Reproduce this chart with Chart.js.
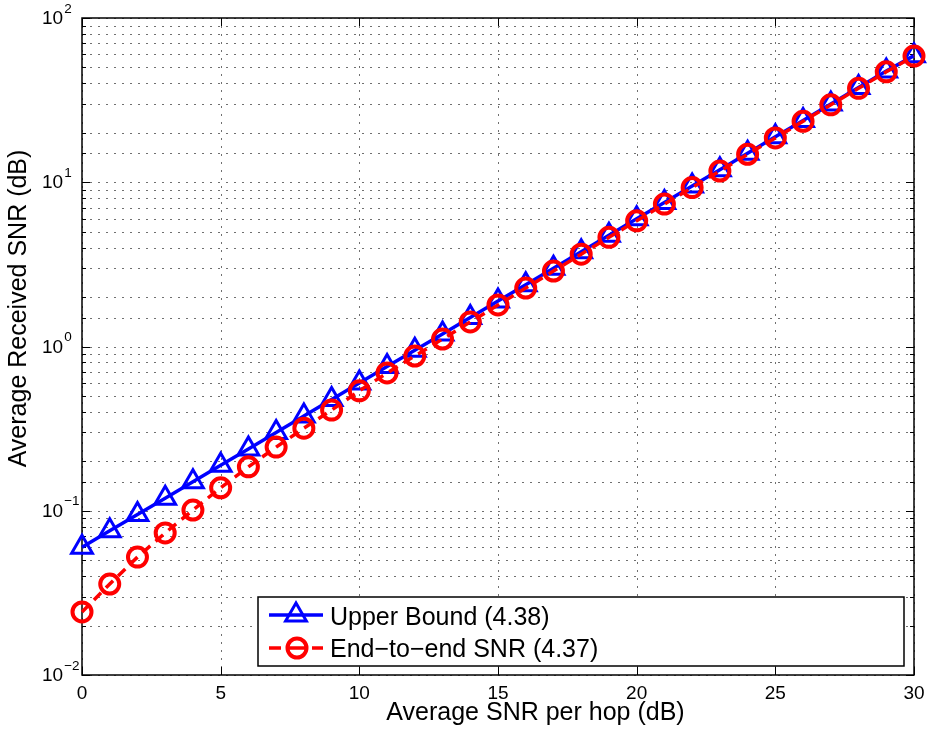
<!DOCTYPE html>
<html>
<head>
<meta charset="utf-8">
<title>Average Received SNR</title>
<script src="https://cdn.jsdelivr.net/npm/chart.js@4.4.1/dist/chart.umd.min.js"></script>
<style>
  html, body { margin: 0; padding: 0; background: #fff; }
  #wrap { position: relative; width: 929px; height: 729px; }
</style>
</head>
<body>
<div id="wrap"><canvas id="chart" width="929" height="729"></canvas></div>
<script>
// values
const snrPerHop = [0, 1, 2, 3, 4, 5, 6, 7, 8, 9, 10, 11, 12, 13, 14, 15,
  16, 17, 18, 19, 20, 21, 22, 23, 24, 25, 26, 27, 28, 29, 30];
const upperBound = [0.060, 0.0755, 0.095, 0.119, 0.150, 0.189, 0.238, 0.300,
  0.378, 0.476, 0.600, 0.755, 0.950, 1.19, 1.50, 1.89, 2.38, 3.00, 3.78, 4.76,
  5.99, 7.54, 9.49, 11.9, 15.0, 18.9, 23.8, 30.0, 37.7, 47.5, 59.0];
const endToEnd = [0.0242, 0.0358, 0.0522, 0.0733, 0.101, 0.138, 0.185, 0.244,
  0.318, 0.410, 0.537, 0.690, 0.875, 1.11, 1.41, 1.79, 2.27, 2.88, 3.65, 4.62,
  5.82, 7.36, 9.28, 11.7, 14.8, 18.6, 23.5, 29.6, 37.3, 47.0, 58.6];

const xTickValues = [0, 5, 10, 15, 20, 25, 30];
const yTickValues = [0.01, 0.1, 1, 10, 100];
const yTickExponents = ['\u22122', '\u22121', '0', '1', '2'];

const seriesNames = ['Upper Bound (4.38)', 'End\u2212to\u2212end SNR (4.37)'];
const xTitle = 'Average SNR per hop (dB)';
const yTitle = 'Average Received SNR (dB)';

const FONT = '"Liberation Sans", Arial, Helvetica, sans-serif';
const BLUE = '#0000ff';
const RED = '#ff0000';

// MATLAB-like axes: box, dotted grid, inward ticks, labels and legend
const matlabAxes = {
  id: 'matlabAxes',
  beforeDatasetsDraw(chart) {
    const { ctx, chartArea: a, scales: { x, y } } = chart;
    ctx.save();

    // dotted grid
    ctx.strokeStyle = '#707070';
    ctx.lineWidth = 1;
    ctx.setLineDash([2, 6]);
    ctx.beginPath();
    xTickValues.forEach(v => {
      const px = Math.round(x.getPixelForValue(v)) + 0.5;
      ctx.moveTo(px, a.top);
      ctx.lineTo(px, a.bottom);
    });
    y.ticks.forEach(t => {
      const py = Math.round(y.getPixelForValue(t.value)) + 0.5;
      ctx.moveTo(a.left, py);
      ctx.lineTo(a.right, py);
    });
    ctx.stroke();
    ctx.setLineDash([]);

    // inward tick marks
    ctx.strokeStyle = '#000';
    ctx.beginPath();
    xTickValues.forEach(v => {
      const px = Math.round(x.getPixelForValue(v)) + 0.5;
      ctx.moveTo(px, a.bottom); ctx.lineTo(px, a.bottom - 8);
      ctx.moveTo(px, a.top); ctx.lineTo(px, a.top + 8);
    });
    y.ticks.forEach(t => {
      const py = Math.round(y.getPixelForValue(t.value)) + 0.5;
      const len = yTickValues.includes(t.value) ? 8 : 4;
      ctx.moveTo(a.left, py); ctx.lineTo(a.left + len, py);
      ctx.moveTo(a.right, py); ctx.lineTo(a.right - len, py);
    });
    ctx.stroke();

    // axes box
    ctx.lineWidth = 1.5;
    ctx.strokeRect(a.left, a.top, a.right - a.left, a.bottom - a.top);
    ctx.restore();
  },
  afterDraw(chart) {
    const { ctx, chartArea: a, scales: { x, y } } = chart;
    ctx.save();
    ctx.fillStyle = '#000';

    // x tick labels
    ctx.font = '19px ' + FONT;
    ctx.textAlign = 'center';
    ctx.textBaseline = 'alphabetic';
    xTickValues.forEach(v => {
      ctx.fillText(String(v), x.getPixelForValue(v), a.bottom + 24);
    });

    // y tick labels 10^n
    ctx.textAlign = 'left';
    ctx.textBaseline = 'middle';
    yTickValues.forEach((v, i) => {
      const py = y.getPixelForValue(v) + 1;
      ctx.font = '19px ' + FONT;
      ctx.fillText('10', 42, py);
      const w = ctx.measureText('10').width;
      ctx.font = '13.5px ' + FONT;
      ctx.fillText(yTickExponents[i], 42 + w + 1, py - 10);
    });

    // axis titles
    ctx.font = '25px ' + FONT;
    ctx.textAlign = 'center';
    ctx.textBaseline = 'alphabetic';
    ctx.fillText(xTitle, 535.5, 720);
    ctx.save();
    ctx.translate(26, 308.5);
    ctx.rotate(-Math.PI / 2);
    ctx.fillText(yTitle, 0, 0);
    ctx.restore();

    // legend inside the axes, lower right
    const lx = 258, ly = 597, lw = a.right - 10 - lx, lh = a.bottom - 9 - ly;
    ctx.fillStyle = '#fff';
    ctx.fillRect(lx, ly, lw, lh);
    ctx.strokeStyle = '#000';
    ctx.lineWidth = 1.5;
    ctx.strokeRect(lx, ly, lw, lh);

    const r1 = 615, r2 = 648;
    // row 1: blue solid with triangle
    ctx.strokeStyle = BLUE;
    ctx.lineWidth = 3.5;
    ctx.beginPath();
    ctx.moveTo(269, r1); ctx.lineTo(323, r1);
    ctx.stroke();
    ctx.fillStyle = 'rgba(0,0,0,0)';
    ctx.lineWidth = 3;
    Chart.helpers.drawPoint(ctx, { pointStyle: 'triangle', radius: 12, borderWidth: 3, rotation: 0 }, 296, r1);

    // row 2: red dashed with circle
    ctx.strokeStyle = RED;
    ctx.lineWidth = 3.5;
    ctx.beginPath();
    ctx.moveTo(269, r2); ctx.lineTo(281, r2);
    ctx.moveTo(289, r2); ctx.lineTo(305, r2);
    ctx.moveTo(312, r2); ctx.lineTo(323, r2);
    ctx.stroke();
    ctx.lineWidth = 4;
    Chart.helpers.drawPoint(ctx, { pointStyle: 'circle', radius: 9.5, borderWidth: 4, rotation: 0 }, 297, r2);

    ctx.fillStyle = '#000';
    ctx.font = '25px ' + FONT;
    ctx.textAlign = 'left';
    ctx.textBaseline = 'alphabetic';
    ctx.fillText(seriesNames[0], 330, 625);
    ctx.fillText(seriesNames[1], 330, 657);
    ctx.restore();
  }
};

const ctx = document.getElementById('chart').getContext('2d');
new Chart(ctx, {
  type: 'line',
  data: {
    datasets: [{
      label: seriesNames[1],
      data: snrPerHop.map((v, i) => ({ x: v, y: endToEnd[i] })),
      borderColor: RED,
      borderWidth: 3.5,
      borderDash: [10, 7],
      pointStyle: 'circle',
      pointRadius: 9.5,
      pointHoverRadius: 9.5,
      pointBorderWidth: 4,
      pointBorderColor: RED,
      pointBackgroundColor: 'rgba(0,0,0,0)',
      tension: 0,
      clip: false,
      order: 0
    }, {
      label: seriesNames[0],
      data: snrPerHop.map((v, i) => ({ x: v, y: upperBound[i] })),
      borderColor: BLUE,
      borderWidth: 3.5,
      pointStyle: 'triangle',
      pointRadius: 12,
      pointHoverRadius: 12,
      pointBorderWidth: 3,
      pointBorderColor: BLUE,
      pointBackgroundColor: 'rgba(0,0,0,0)',
      tension: 0,
      clip: false,
      order: 1
    }]
  },
  options: {
    responsive: false,
    animation: false,
    events: [],
    layout: { padding: { top: 18, right: 12, left: 0, bottom: 0 } },
    plugins: { legend: { display: false }, tooltip: { enabled: false } },
    scales: {
      x: {
        type: 'linear',
        min: 0,
        max: 30,
        ticks: { display: false, stepSize: 5 },
        grid: { display: false },
        border: { display: false },
        afterFit(scale) { scale.height = 54; }
      },
      y: {
        type: 'logarithmic',
        min: 0.01,
        max: 100,
        ticks: { display: false },
        grid: { display: false },
        border: { display: false },
        afterFit(scale) { scale.width = 82; }
      }
    }
  },
  plugins: [matlabAxes]
});
</script>
</body>
</html>
